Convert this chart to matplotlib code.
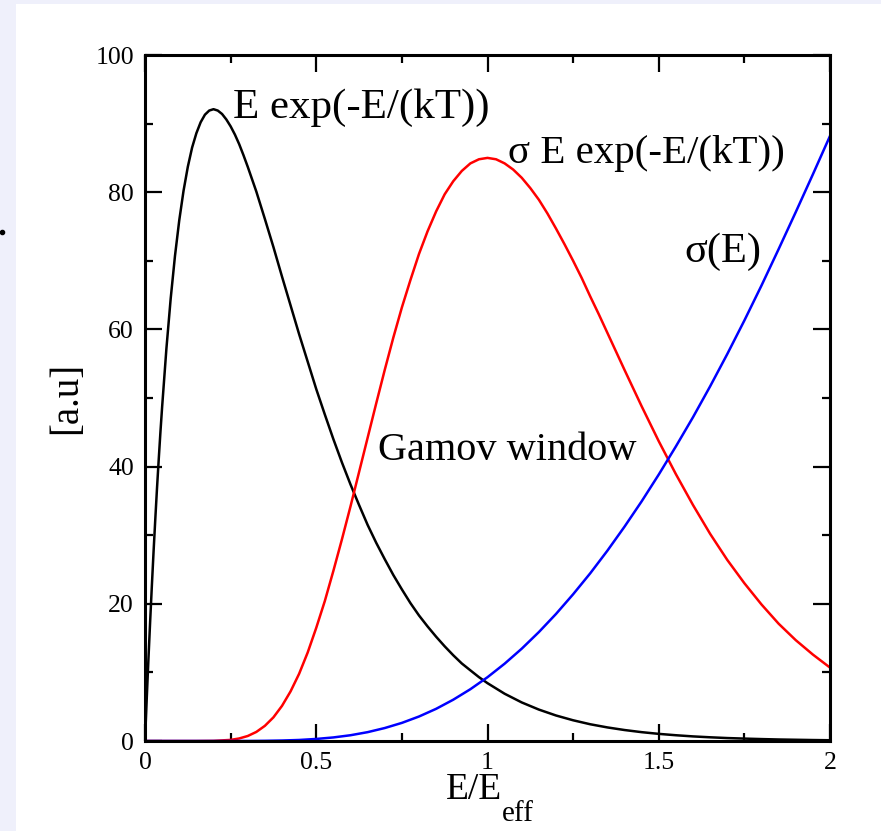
import matplotlib
matplotlib.use("Agg")
import matplotlib.pyplot as plt
from matplotlib.patches import Rectangle
from matplotlib.ticker import MultipleLocator

# values
# E exp(-E/(kT))
x_black = [0, 0.005, 0.01, 0.015, 0.02, 0.025, 0.03, 0.035, 0.04, 0.045, 0.05,
           0.0625, 0.075, 0.0875, 0.1, 0.1125, 0.125, 0.1375, 0.15, 0.1625,
           0.175, 0.1875, 0.2, 0.2125, 0.225, 0.2375, 0.25, 0.2625, 0.275,
           0.2875, 0.3, 0.325, 0.35, 0.375, 0.4, 0.425, 0.45, 0.475, 0.5, 0.525,
           0.55, 0.575, 0.6, 0.625, 0.65, 0.675, 0.7, 0.725, 0.75, 0.775, 0.8,
           0.825, 0.85, 0.875, 0.9, 0.925, 0.95, 0.975, 1.0, 1.05, 1.1, 1.15,
           1.2, 1.25, 1.3, 1.35, 1.4, 1.45, 1.5, 1.55, 1.6, 1.65, 1.7, 1.75,
           1.8, 1.85, 1.9, 1.95, 2.0]
y_black = [0, 6.10, 11.9, 17.4, 22.6, 27.6, 32.3, 36.8, 41.0, 45.0, 48.7,
           57.2, 64.5, 70.7, 75.9, 80.2, 83.7, 86.5, 88.6, 90.2,
           91.3, 91.9, 92.1, 91.9, 91.4, 90.6, 89.6, 88.4, 87.0,
           85.4, 83.7, 80.1, 76.1, 72.0, 67.7, 63.5, 59.3, 55.3, 51.3, 47.6,
           44.0, 40.6, 37.4, 34.4, 31.5, 28.9, 26.5, 24.2, 22.1, 20.1, 18.3,
           16.7, 15.2, 13.8, 12.5, 11.3, 10.3, 9.31, 8.43, 6.89, 5.62, 4.58,
           3.72, 3.02, 2.44, 1.98, 1.60, 1.29, 1.04, 0.84, 0.67, 0.54, 0.43, 0.35,
           0.28, 0.22, 0.18, 0.14, 0.11]

# sigma E exp(-E/(kT))
x_red = [0, 0.05, 0.1, 0.15, 0.2, 0.25, 0.275, 0.3, 0.325, 0.35, 0.375, 0.4,
         0.425, 0.45, 0.475, 0.5, 0.525, 0.55, 0.575, 0.6, 0.625, 0.65, 0.675,
         0.7, 0.725, 0.75, 0.775, 0.8, 0.825, 0.85, 0.875, 0.9, 0.925, 0.95,
         0.975, 1.0, 1.025, 1.05, 1.075, 1.1, 1.125, 1.15, 1.175, 1.2, 1.225,
         1.25, 1.275, 1.3, 1.325, 1.35, 1.375, 1.4, 1.45, 1.5, 1.55, 1.6, 1.65,
         1.7, 1.75, 1.8, 1.85, 1.9, 1.95, 2.0]
y_red = [0, 0, 0, 0, 0.02, 0.16, 0.37, 0.73, 1.32, 2.21, 3.45, 5.12,
         7.23, 9.80, 12.9, 16.5, 20.4, 24.8, 29.4, 34.2, 39.2, 44.2, 49.2,
         54.1, 58.8, 63.2, 67.2, 71.0, 74.3, 77.2, 79.7, 81.6, 83.1, 84.2,
         84.8, 85.0, 84.8, 84.2, 83.3, 82.1, 80.6, 78.9, 76.9, 74.7, 72.4,
         70.0, 67.5, 64.8, 62.2, 59.5, 56.8, 54.1, 48.8, 43.7, 38.9, 34.4, 30.2,
         26.4, 23.0, 19.9, 17.1, 14.7, 12.6, 10.7]

# sigma(E)
x_blue = [0, 0.05, 0.1, 0.15, 0.2, 0.25, 0.3, 0.35, 0.4, 0.45, 0.5, 0.55, 0.6,
          0.65, 0.7, 0.75, 0.8, 0.85, 0.9, 0.95, 1.0, 1.05, 1.1, 1.15, 1.2, 1.25,
          1.3, 1.35, 1.4, 1.45, 1.5, 1.55, 1.6, 1.65, 1.7, 1.75, 1.8, 1.85, 1.9,
          1.95, 2.0]
y_blue = [0, 0, 0, 0, 0, 0.002, 0.008, 0.027, 0.07, 0.15, 0.30, 0.52, 0.84,
          1.29, 1.89, 2.64, 3.57, 4.69, 6.02, 7.55, 9.3, 11.27, 13.46, 15.88,
          18.52, 21.39, 24.45, 27.74, 31.24, 34.93, 38.84, 42.94, 47.2, 51.7,
          56.4, 61.3, 66.4, 71.7, 77.1, 82.6, 88.2]

plt.rcParams['font.family'] = ['Liberation Serif', 'DejaVu Serif']

W, H = 881, 831
fig = plt.figure(figsize=(W / 100, H / 100), dpi=100, facecolor='white')
# lavender page border on the left and top
fig.patches.append(Rectangle((0, 0), 16 / W, 1, transform=fig.transFigure,
                             facecolor='#eff0fb', edgecolor='none', zorder=-10))
fig.patches.append(Rectangle((0, 1 - 4 / H), 1, 4 / H, transform=fig.transFigure,
                             facecolor='#eff0fb', edgecolor='none', zorder=-10))
fig.add_artist(plt.Line2D([2 / W], [1 - 232 / H], marker='o', markersize=3,
                          color='black', transform=fig.transFigure))

ax = fig.add_axes([145 / W, 1 - 741 / H, 685 / W, 686 / H])

ax.plot(x_black, y_black, color='black', lw=1.8)
ax.plot(x_red, y_red, color='red', lw=1.8)
ax.plot(x_blue, y_blue, color='blue', lw=1.8)

ax.set_xlim(0, 2)
ax.set_ylim(0, 100)
ax.xaxis.set_minor_locator(MultipleLocator(0.25))
ax.yaxis.set_minor_locator(MultipleLocator(10))
ax.set_xticks([0, 0.5, 1, 1.5, 2])
ax.set_xticklabels(['0', '0.5', '1', '1.5', '2'])
ax.set_yticks([0, 20, 40, 60, 80, 100])
ax.set_yticklabels(['0', '20', '40', '60', '80', '100'])

ax.tick_params(which='both', direction='in', top=True, right=True, width=1.6,
               labelsize=18.5, pad=8)
ax.tick_params(which='major', length=12)
ax.tick_params(which='minor', length=6)
for s in ax.spines.values():
    s.set_linewidth(2.2)

# x label with a low-set subscript, as in the original
t1 = ax.text(0.4394, -0.0845, 'E/E', fontsize=27, ha='left', va='baseline',
             transform=ax.transAxes)
ax.annotate('eff', xy=(1, 0), xycoords=t1, xytext=(0, -10),
            textcoords='offset points', fontsize=21, ha='left', va='baseline')
ax.set_ylabel('[a.u]', fontsize=28, labelpad=7)

ax.text(0.257, 90.8, 'E exp(-E/(kT))', fontsize=31, va='baseline')
ax.text(1.06, 84.3, 'σ E exp(-E/(kT))', fontsize=29.5, va='baseline')
ax.text(1.574, 69.8, 'σ(E)', fontsize=30.5, va='baseline')
ax.text(0.68, 40.9, 'Gamov window', fontsize=29, va='baseline')

fig.savefig('out.png', dpi=100, facecolor=fig.get_facecolor())
